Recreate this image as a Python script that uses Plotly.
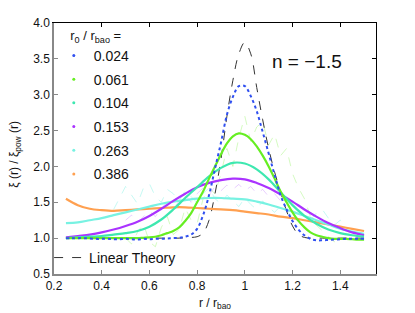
import numpy as np
import plotly.graph_objects as go

# ---------------- data ----------------
x_fine = [round(0.25 + 0.025 * i, 3) for i in range(51)]
x_coarse = [round(0.25 + 0.05 * i, 3) for i in range(26)]

linear_theory = [1.0] * 20 + [
    1.005, 1.01, 1.02, 1.07, 1.25, 1.62, 2.1, 2.7, 3.2, 3.57, 3.73, 3.57, 3.1, 2.65,
    2.25, 1.92, 1.64, 1.38, 1.17, 1.05, 1.01, 1.0] + [1.0] * 9

xi_0024 = [1.0, 1.0, 1.0, 1.0, 0.995, 0.99, 0.99, 0.99, 0.985, 0.985, 0.99, 0.985,
           0.98, 0.99, 0.985, 0.99, 0.99, 0.995, 1.0, 1.005,
           1.02, 1.05, 1.13, 1.32, 1.6, 1.97, 2.33, 2.72, 2.97, 3.12, 3.12, 2.98, 2.77,
           2.48, 2.18, 1.88, 1.6, 1.4, 1.24, 1.12, 1.04, 0.99,
           0.97, 0.97, 0.975, 0.98, 0.985, 0.99, 0.99, 0.99, 0.99]

xi_0061 = [1.0] * 13 + [1.005, 1.01, 1.02, 1.04, 1.07, 1.1, 1.15,
           1.24, 1.35, 1.5, 1.65, 1.83, 2.0, 2.17, 2.32, 2.42, 2.46, 2.44, 2.38, 2.28,
           2.15, 2.0, 1.83, 1.65, 1.5, 1.36, 1.24, 1.15, 1.08,
           1.04, 1.02, 1.0, 0.99, 0.99, 0.99, 0.985, 0.98, 0.98]

xi_0104 = [1.0, 1.01, 1.02, 1.03, 1.05, 1.07, 1.1, 1.16, 1.26, 1.4, 1.56, 1.71, 1.86,
           1.98, 2.05, 2.04, 1.96, 1.82, 1.64, 1.46, 1.31, 1.2, 1.12, 1.07, 1.04, 1.02]

xi_0153 = [1.01, 1.03, 1.05, 1.08, 1.12, 1.17, 1.23, 1.31, 1.41, 1.52, 1.62, 1.71, 1.77,
           1.81, 1.83, 1.82, 1.77, 1.70, 1.61, 1.51, 1.40, 1.30, 1.21, 1.14, 1.08, 1.04]

xi_0263 = [1.21, 1.22, 1.25, 1.28, 1.32, 1.36, 1.40, 1.44, 1.48, 1.51, 1.53, 1.55, 1.56,
           1.56, 1.55, 1.54, 1.51, 1.47, 1.42, 1.37, 1.31, 1.25, 1.19, 1.13, 1.09, 1.06]

xi_0386 = [1.55, 1.46, 1.41, 1.39, 1.38, 1.39, 1.40, 1.41, 1.42, 1.43, 1.43, 1.42, 1.41,
           1.40, 1.39, 1.37, 1.35, 1.33, 1.30, 1.28, 1.25, 1.22, 1.19, 1.16, 1.13, 1.10]

# noisy measured curves (dashed, faint)
x_noise_0263 = [round(0.45 + 0.025 * i, 3) for i in range(41)]
noise_0263 = [1.40, 1.55, 1.72, 1.60, 1.48, 1.70, 1.76, 1.58, 1.50, 1.68, 1.62, 1.52,
              1.66, 1.58, 1.49, 1.62, 1.70, 1.55, 1.48, 1.60, 1.52, 1.44, 1.56, 1.47,
              1.40, 1.52, 1.43, 1.36, 1.45, 1.38, 1.30, 1.40, 1.33, 1.25, 1.35, 1.40,
              1.28, 1.18, 1.25, 1.15, 1.08]

x_noise_0153 = [round(0.5 + 0.025 * i, 3) for i in range(29)]
noise_0153 = [1.25, 1.32, 1.22, 1.30, 1.38, 1.30, 1.42, 1.50, 1.40, 1.52, 1.60, 1.50,
              1.62, 1.70, 1.60, 1.72, 1.66, 1.74, 1.68, 1.75, 1.66, 1.72, 1.62, 1.68,
              1.58, 1.62, 1.52, 1.58, 1.46]

x_noise_0061 = [round(0.5 + 0.025 * i, 3) for i in range(37)]
noise_0061 = [1.0, 0.92, 1.08, 1.20, 0.95, 0.88, 1.15, 1.30, 1.05, 1.12, 1.42, 1.25,
              1.20, 1.55, 1.70, 1.62, 1.90, 2.25, 2.00, 2.40, 2.70, 2.35, 2.55, 2.62,
              2.30, 2.45, 2.15, 2.25, 1.90, 1.70, 1.55, 1.30, 1.18, 1.10, 1.02, 0.95, 1.0]

labels = ["0.024", "0.061", "0.104", "0.153", "0.263", "0.386"]
colors = ["#3050f0", "#66ee22", "#3ee8b0", "#aa33ff", "#78f2e2", "#ffa050"]

assert len(linear_theory) == 51 and len(xi_0024) == 51 and len(xi_0061) == 51
assert len(noise_0263) == len(x_noise_0263)
assert len(noise_0153) == len(x_noise_0153)
assert len(noise_0061) == len(x_noise_0061)

FONT = "Liberation Sans, Arial, sans-serif"

fig = go.Figure()

# faint noisy dashed curves
for xs, ys, c in [(x_noise_0263, noise_0263, "rgba(112,240,224,0.5)"),
                  (x_noise_0153, noise_0153, "rgba(190,120,255,0.45)"),
                  (x_noise_0061, noise_0061, "rgba(120,238,60,0.4)")]:
    fig.add_trace(go.Scatter(x=xs, y=ys, mode="lines", showlegend=False,
                             line=dict(color=c, width=0.8, dash="dash"), hoverinfo="skip"))

# linear theory
fig.add_trace(go.Scatter(x=x_fine, y=linear_theory, mode="lines", name="Linear Theory",
                         legend="legend2",
                         line=dict(color="#333333", width=1, dash="dash", shape="spline")))

series = [(x_coarse, xi_0386), (x_coarse, xi_0263), (x_coarse, xi_0153),
          (x_coarse, xi_0104), (x_fine, xi_0061), (x_fine, xi_0024)]
for (xs, ys), c in zip(series, colors[::-1]):
    is_blue = c == "#3050f0"
    fig.add_trace(go.Scatter(x=xs, y=ys, mode="lines", showlegend=False,
                             line=dict(color=c, width=2 if is_blue else 2.2,
                                       dash="dot" if is_blue else "solid",
                                       shape="spline")))

# legend entries (dots)
for lab, c in zip(labels, colors):
    fig.add_trace(go.Scatter(x=[None], y=[None], mode="markers", name=lab,
                             legendgroup=lab,
                             marker=dict(color=c, size=3), legend="legend"))

# hidden trace to activate the mirror axes
fig.add_trace(go.Scatter(x=[None], y=[None], xaxis="x2", yaxis="y2", showlegend=False))

xt = [0.2, 0.4, 0.6, 0.8, 1.0, 1.2, 1.4]
xtt = ["0.2", "0.4", "0.6", "0.8", "1", "1.2", "1.4"]
yt = [0.5, 1.0, 1.5, 2.0, 2.5, 3.0, 3.5, 4.0]
ytt = [f"{v:.1f}" for v in yt]

axis_common = dict(showgrid=False, zeroline=False, ticks="inside", ticklen=4)

# the page has an 8px body margin, so the figure is a little smaller and offset
W, H = 407, 305

fig.update_layout(
    width=W, height=H,
    margin=dict(l=46, r=39, t=15, b=39, autoexpand=False),
    paper_bgcolor="white", plot_bgcolor="white",
    font=dict(family=FONT, size=12, color="#111111"),
    xaxis=dict(range=[0.2, 1.55], tickvals=xt, ticktext=xtt, linecolor="#888888",
               tickcolor="#888888", showline=True, linewidth=1.5,
               title=dict(text="r / r<sub>bao</sub>", font=dict(size=12), standoff=6),
               tickfont=dict(size=12), **axis_common),
    yaxis=dict(range=[0.5, 4.0], tickvals=yt, ticktext=ytt, linecolor="#888888",
               tickcolor="#888888", showline=True, linewidth=1.5, automargin=False,
               tickfont=dict(size=12), **axis_common),
    xaxis2=dict(range=[0.2, 1.55], tickvals=xt, showticklabels=False, overlaying="x",
                side="top", anchor="y", linecolor="#000000", tickcolor="#000000",
                showline=True, linewidth=1, **axis_common),
    yaxis2=dict(range=[0.5, 4.0], tickvals=yt, showticklabels=False, overlaying="y",
                side="right", anchor="x", linecolor="#000000", tickcolor="#000000",
                showline=True, linewidth=1, **axis_common),
    legend=dict(x=0.1125, y=0.951, xref="container", yref="container",
                xanchor="left", yanchor="top",
                bgcolor="rgba(0,0,0,0)", font=dict(size=14), maxheight=300,
                title=dict(text="&nbsp;&nbsp;&nbsp;&nbsp;r<sub>0</sub> / r<sub>bao</sub> =",
                           font=dict(size=13)),
                traceorder="grouped", tracegroupgap=2.5, itemwidth=30),
    legend2=dict(x=0.101, y=0.128, xref="container", yref="container",
                 xanchor="left", yanchor="bottom",
                 bgcolor="rgba(0,0,0,0)", font=dict(size=14), itemwidth=30),
    annotations=[
        dict(text="n = −1.5", x=0.785, y=0.846, xref="paper", yref="paper",
             xanchor="center", yanchor="middle",
             showarrow=False, font=dict(size=19, color="#111111")),
        dict(text="ξ (r) / ξ<sub>pow</sub> (r)", x=-0.121, y=0.475, xref="paper",
             yref="paper", xanchor="center", yanchor="middle", textangle=-90,
             showarrow=False, font=dict(size=12, color="#111111")),
    ],
)

fig.write_html("out.html")
